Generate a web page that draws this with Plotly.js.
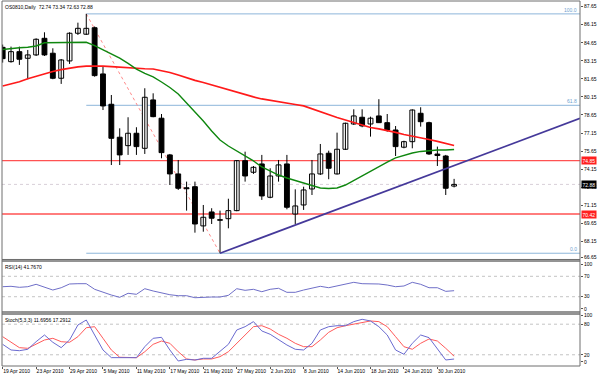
<!DOCTYPE html>
<html><head><meta charset="utf-8">
<script src="https://cdn.plot.ly/plotly-3.0.1.min.js"></script>
<style>html,body{margin:0;padding:0;background:#fff}#chart{width:600px;height:375px}</style>
</head><body><div id="chart"></div>
<script>
const symbol = 'OS0810';
const timeframe = 'Daily';
const barDates = ['19 Apr 2010','20 Apr 2010','21 Apr 2010','22 Apr 2010','23 Apr 2010','26 Apr 2010','27 Apr 2010','28 Apr 2010','29 Apr 2010','30 Apr 2010',
'3 May 2010','4 May 2010','5 May 2010','6 May 2010','7 May 2010','10 May 2010','11 May 2010','12 May 2010','13 May 2010','14 May 2010',
'17 May 2010','18 May 2010','19 May 2010','20 May 2010','21 May 2010','24 May 2010','25 May 2010','26 May 2010','27 May 2010','28 May 2010','31 May 2010',
'1 Jun 2010','2 Jun 2010','3 Jun 2010','4 Jun 2010','7 Jun 2010','8 Jun 2010','9 Jun 2010','10 Jun 2010','11 Jun 2010','14 Jun 2010',
'15 Jun 2010','16 Jun 2010','17 Jun 2010','18 Jun 2010','21 Jun 2010','22 Jun 2010','23 Jun 2010','24 Jun 2010','25 Jun 2010','28 Jun 2010',
'29 Jun 2010','30 Jun 2010','1 Jul 2010','2 Jul 2010'];

const openP  = [84.27,83.08,83.91,83.36,83.64,85.02,83.78,81.70,83.14,85.44,85.36,85.90,82.06,79.54,76.80,76.10,77.13,75.88,79.90,78.38,
75.33,73.75,72.60,72.69,69.43,70.59,69.95,70.03,70.70,74.85,73.89,74.58,71.81,73.58,74.58,70.42,71.17,72.50,73.75,75.47,
73.75,75.80,77.90,78.46,77.90,78.57,78.01,77.40,75.97,76.43,78.79,78.01,75.40,75.24,72.74];
const highP  = [84.50,84.33,84.33,84.05,85.02,85.52,84.19,83.30,85.52,86.32,87.05,86.00,82.66,80.31,77.54,78.46,77.63,80.87,80.45,78.73,
75.41,74.91,73.11,73.11,71.17,70.90,70.70,71.69,74.90,75.60,74.41,75.33,74.22,74.91,75.33,72.47,72.69,74.91,76.24,75.68,
77.18,78.01,79.12,79.12,78.51,79.96,78.73,77.73,76.51,79.12,79.29,78.09,76.02,75.33,73.34];
const lowP   = [83.00,83.00,82.81,81.62,83.55,83.55,81.62,81.23,82.89,85.30,85.30,81.83,79.06,74.49,74.49,75.33,75.33,75.41,78.46,75.05,
72.83,72.42,70.70,68.87,68.95,69.59,67.16,69.23,70.65,73.11,73.75,71.59,71.73,73.11,70.81,69.59,70.76,72.00,73.66,73.31,
73.70,75.74,77.82,77.63,76.85,77.98,77.26,75.24,75.88,75.88,77.68,75.33,74.41,72.00,72.63];
const closeP = [83.33,83.91,83.28,83.64,84.94,83.64,81.70,83.22,85.44,85.85,85.85,81.92,79.40,76.71,75.33,77.13,76.02,80.12,78.51,75.52,
73.75,72.56,72.52,69.59,70.15,70.07,69.90,70.70,74.85,73.58,74.30,71.92,73.58,74.50,70.98,71.09,72.42,73.75,75.41,74.22,
75.80,77.96,78.57,77.74,78.38,78.01,77.40,76.02,76.43,79.06,78.09,75.41,75.28,72.56,72.88];

const maFast = [84.09,84.18,84.23,84.28,84.38,84.65,84.67,84.69,84.70,84.70,84.69,84.42,84.09,83.72,83.37,82.93,82.46,82.10,81.81,81.39,
80.93,80.39,79.65,78.90,78.15,77.32,76.57,76.07,75.66,75.24,74.83,74.33,74.00,73.66,73.41,73.21,73.00,72.75,72.58,72.54,
72.58,72.83,73.21,73.58,74.00,74.41,74.74,75.08,75.28,75.49,75.62,75.70,75.74,75.74,75.78];
const maSlow = [81.06,81.23,81.41,81.66,81.87,82.07,82.26,82.41,82.54,82.64,82.70,82.72,82.70,82.66,82.61,82.55,82.51,82.49,82.47,82.35,
82.18,81.97,81.72,81.52,81.35,81.14,80.93,80.77,80.56,80.35,80.15,79.98,79.85,79.73,79.61,79.52,79.40,79.15,78.90,78.65,
78.44,78.23,78.03,77.82,77.61,77.49,77.36,77.20,77.03,76.91,76.78,76.61,76.45,76.28,76.11];

const rsi14 = [49.6,50.4,48.4,49.6,54.3,49.0,43.1,47.6,54.9,55.5,55.5,44.5,38.6,33.3,28.8,36.7,34.7,45.7,41.2,37.3,
33.9,32.0,32.0,28.0,29.4,29.4,29.4,32.7,45.7,42.5,44.5,39.8,44.5,46.5,38.6,38.6,43.1,46.5,50.4,47.6,
51.0,55.5,58.2,55.5,55.5,54.9,52.9,49.6,51.0,58.2,54.3,47.6,47.6,40.5,41.767];
const stochK = [40.5,29.4,28.0,30.7,45.7,58.8,44.5,34.0,49.0,78.4,88.2,58.8,29.4,14.4,14.3,14.3,14.3,35.9,52.3,54.2,
29.4,7.8,11.1,9.8,13.1,13.1,26.0,40.5,68.6,75.1,85.0,66.7,60.2,49.0,39.2,30.8,29.4,42.5,68.6,75.1,
77.0,77.0,85.0,89.6,86.3,75.1,58.8,29.4,21.0,42.5,58.8,53.6,32.7,9.8,11.6956];
const stochD = [55.5,44.5,34.0,32.7,40.5,49.0,52.3,45.7,44.5,55.5,73.1,75.1,52.3,29.4,15.1,14.3,14.3,26.0,40.5,47.0,
42.5,26.0,11.8,9.8,11.8,11.8,16.3,26.0,42.5,58.8,75.1,77.0,70.6,60.2,52.3,42.5,35.9,35.9,49.0,64.1,
73.1,77.0,80.4,83.7,86.3,85.0,75.1,55.5,35.9,30.8,42.5,51.0,47.0,32.7,17.2912];

const priceTickText = ['66.65','68.15','69.65','71.15','72.65','74.15','75.65','77.15','78.65','80.15','81.65','83.15','84.65','86.15','87.65'];
const priceTickPos  = [66.80,68.15,69.65,71.15,72.65,74.15,75.65,77.15,78.65,80.15,81.65,83.15,84.65,86.15,87.65];
const rsiTickText = ['0','30','70','100'];
const rsiTickPos  = [6, 30, 70, 93];
const rsiLevels = [30, 70];
const stochTickText = ['0','20','80','100'];
const stochTickPos  = [6, 20, 80, 98];
const stochLevels = [20, 80];
const levelLines = [74.85, 70.42];
const bidPrice = 72.88;
const fibAnchorIdx = [10, 26];
const fibAnchorPrice = [87.05, 67.16];
const fibRatios = [0, 61.8, 100];
const trendIdx = [26, 53];
const trendPrice = [67.16, 74.19];

const FONT = 'Liberation Sans, Arial, sans-serif';
const xIdx = barDates.map((d, i) => i);
const tickIdx = xIdx.filter(i => i % 4 === 0);
const tickText = tickIdx.map(i => barDates[i]);
const xRange = [-0.08, 69.06];
const last = closeP.length - 1;

const wickX = [], wickY = [];
xIdx.forEach(i => { wickX.push(i, i, null); wickY.push(lowP[i], highP[i], null); });
const upBase = xIdx.map(i => closeP[i] >= openP[i] ? openP[i] : null);
const upH    = xIdx.map(i => closeP[i] >= openP[i] ? Math.max(closeP[i] - openP[i], 0.02) : null);
const dnBase = xIdx.map(i => closeP[i] < openP[i] ? closeP[i] : null);
const dnH    = xIdx.map(i => closeP[i] < openP[i] ? Math.max(openP[i] - closeP[i], 0.02) : null);

const traces = [
  {type:'scatter', mode:'lines', x:wickX, y:wickY, xaxis:'x', yaxis:'y', line:{color:'#000', width:1}, hoverinfo:'skip', connectgaps:false},
  {type:'bar', x:xIdx, y:upH, base:upBase, width:0.58, xaxis:'x', yaxis:'y', marker:{color:'#ffffff', line:{color:'#000', width:1}}, hoverinfo:'skip'},
  {type:'bar', x:xIdx, y:dnH, base:dnBase, width:0.58, xaxis:'x', yaxis:'y', marker:{color:'#000000', line:{color:'#000', width:1}}, hoverinfo:'skip'},
  {type:'scatter', mode:'lines', x:xIdx, y:maSlow, xaxis:'x', yaxis:'y', line:{color:'#ff1a1a', width:1.7}, hoverinfo:'skip'},
  {type:'scatter', mode:'lines', x:xIdx, y:maFast, xaxis:'x', yaxis:'y', line:{color:'#0f870f', width:1.4}, hoverinfo:'skip'},
  {type:'scatter', mode:'lines', x:xIdx, y:rsi14, xaxis:'x', yaxis:'y2', line:{color:'#6f6fc8', width:1}, hoverinfo:'skip'},
  {type:'scatter', mode:'lines', x:xIdx, y:stochD, xaxis:'x', yaxis:'y3', line:{color:'#ff5a5a', width:1}, hoverinfo:'skip'},
  {type:'scatter', mode:'lines', x:xIdx, y:stochK, xaxis:'x', yaxis:'y3', line:{color:'#6a6ad0', width:1}, hoverinfo:'skip'}
];

const shapes = [];
levelLines.forEach(v => shapes.push({type:'line', xref:'x', yref:'y', x0:xRange[0], x1:xRange[1], y0:v, y1:v,
  line:{color:'#ff5252', width:1.3}, layer:'below'}));
shapes.push({type:'line', xref:'x', yref:'y', x0:xRange[0], x1:xRange[1], y0:bidPrice, y1:bidPrice,
  line:{color:'#d8cfd8', width:1, dash:'dot'}, layer:'below'});
rsiLevels.forEach(v => shapes.push({type:'line', xref:'x', yref:'y2', x0:xRange[0], x1:xRange[1], y0:v, y1:v,
  line:{color:'#c4c4c4', width:1, dash:'dot'}, layer:'below'}));
stochLevels.forEach(v => shapes.push({type:'line', xref:'x', yref:'y3', x0:xRange[0], x1:xRange[1], y0:v, y1:v,
  line:{color:'#c4c4c4', width:1, dash:'dot'}, layer:'below'}));
const fibRange = fibAnchorPrice[0] - fibAnchorPrice[1];
const annotations = [];
fibRatios.forEach(r => {
  const v = fibAnchorPrice[1] + fibRange * r / 100;
  shapes.push({type:'line', xref:'x', yref:'y', x0:fibAnchorIdx[0], x1:xRange[1], y0:v, y1:v,
    line:{color:'#8db6da', width:1}, layer:'below'});
  annotations.push({xref:'x', yref:'y', x:xRange[1], y:v, xanchor:'right', yanchor:'bottom', xshift:-1, yshift:-1,
    text:r.toFixed(1), showarrow:false, font:{family:FONT, size:5, color:'#6f9fcf'}});
});
shapes.push({type:'line', xref:'x', yref:'y', x0:fibAnchorIdx[0], y0:fibAnchorPrice[0], x1:fibAnchorIdx[1], y1:fibAnchorPrice[1],
  line:{color:'#ff8a8a', width:1, dash:'dot'}, layer:'below'});
const slope = (trendPrice[1] - trendPrice[0]) / (trendIdx[1] - trendIdx[0]);
shapes.push({type:'line', xref:'x', yref:'y', x0:trendIdx[0], y0:trendPrice[0], x1:xRange[1],
  y1:trendPrice[0] + slope * (xRange[1] - trendIdx[0]), line:{color:'#45399a', width:1.7}});
['y','y2','y3'].forEach(a => shapes.push({type:'rect', xref:'paper', yref:a + ' domain', x0:0, x1:1, y0:0, y1:1,
  line:{color:'#6e6e6e', width:1}, fillcolor:'rgba(0,0,0,0)'}));
[[0.2877, 0.2918], [0.1425, 0.1479]].forEach(s => shapes.push({type:'rect', xref:'paper', yref:'paper', x0:0, x1:1, y0:s[0], y1:s[1],
  line:{color:'#6e6e6e', width:1}, fillcolor:'#bdbdbd'}));

levelLines.forEach(v => annotations.push({xref:'paper', yref:'y', x:1, y:v, xanchor:'left', xshift:1, text:v.toFixed(2),
  showarrow:false, bgcolor:'#ff2020', borderpad:0.5, font:{family:FONT, size:5, color:'#fff'}}));
annotations.push({xref:'paper', yref:'y', x:1, y:closeP[last], xanchor:'left', xshift:1, text:closeP[last].toFixed(2),
  showarrow:false, bgcolor:'#000', borderpad:0.5, font:{family:FONT, size:5, color:'#fff'}});
annotations.push({xref:'paper', yref:'y domain', x:0, y:1, xanchor:'left', yanchor:'top', xshift:1, yshift:-1,
  text:`${symbol},${timeframe}  ${openP[last].toFixed(2)} ${highP[last].toFixed(2)} ${lowP[last].toFixed(2)} ${closeP[last].toFixed(2)}`,
  showarrow:false, font:{family:FONT, size:5, color:'#000'}});
annotations.push({xref:'paper', yref:'y2 domain', x:0, y:1, xanchor:'left', yanchor:'top', xshift:1, yshift:-1,
  text:`RSI(14) ${rsi14[last].toFixed(4)}`, showarrow:false, font:{family:FONT, size:5, color:'#000'}});
annotations.push({xref:'paper', yref:'y3 domain', x:0, y:1, xanchor:'left', yanchor:'top', xshift:1, yshift:-1,
  text:`Stoch(5,3,3) ${stochK[last].toFixed(4)} ${stochD[last].toFixed(4)}`, showarrow:false, font:{family:FONT, size:5, color:'#000'}});

const axFont = {family:FONT, size:5, color:'#000'};
const layout = {
  width:600, height:375, margin:{l:2, r:20, t:1, b:9},
  paper_bgcolor:'#fff', plot_bgcolor:'#fff', showlegend:false, barmode:'overlay',
  xaxis:{domain:[0,1], range:xRange, anchor:'y3', tickmode:'array', tickvals:tickIdx, ticktext:tickText, tickangle:0,
    ticks:'outside', ticklen:2, tickcolor:'#555', tickfont:axFont, ticklabelposition:'outside right',
    showgrid:false, zeroline:false, showline:false, fixedrange:true, automargin:false},
  yaxis:{domain:[0.2918,1], range:[66.64,88.12], side:'right', anchor:'x', tickmode:'array', tickvals:priceTickPos,
    ticktext:priceTickText, ticks:'outside', ticklen:2, tickcolor:'#555', tickfont:axFont,
    showgrid:false, zeroline:false, fixedrange:true},
  yaxis2:{domain:[0.1479,0.2877], range:[0,100], side:'right', anchor:'x', tickmode:'array', tickvals:rsiTickPos, ticktext:rsiTickText,
    ticks:'outside', ticklen:2, tickcolor:'#555', tickfont:axFont, showgrid:false, zeroline:false, fixedrange:true},
  yaxis3:{domain:[0,0.1425], range:[-2,100], side:'right', anchor:'x', tickmode:'array', tickvals:stochTickPos, ticktext:stochTickText,
    ticks:'outside', ticklen:2, tickcolor:'#555', tickfont:axFont, showgrid:false, zeroline:false, fixedrange:true},
  shapes:shapes, annotations:annotations
};
Plotly.newPlot('chart', traces, layout, {displayModeBar:false, staticPlot:true});
</script></body></html>
